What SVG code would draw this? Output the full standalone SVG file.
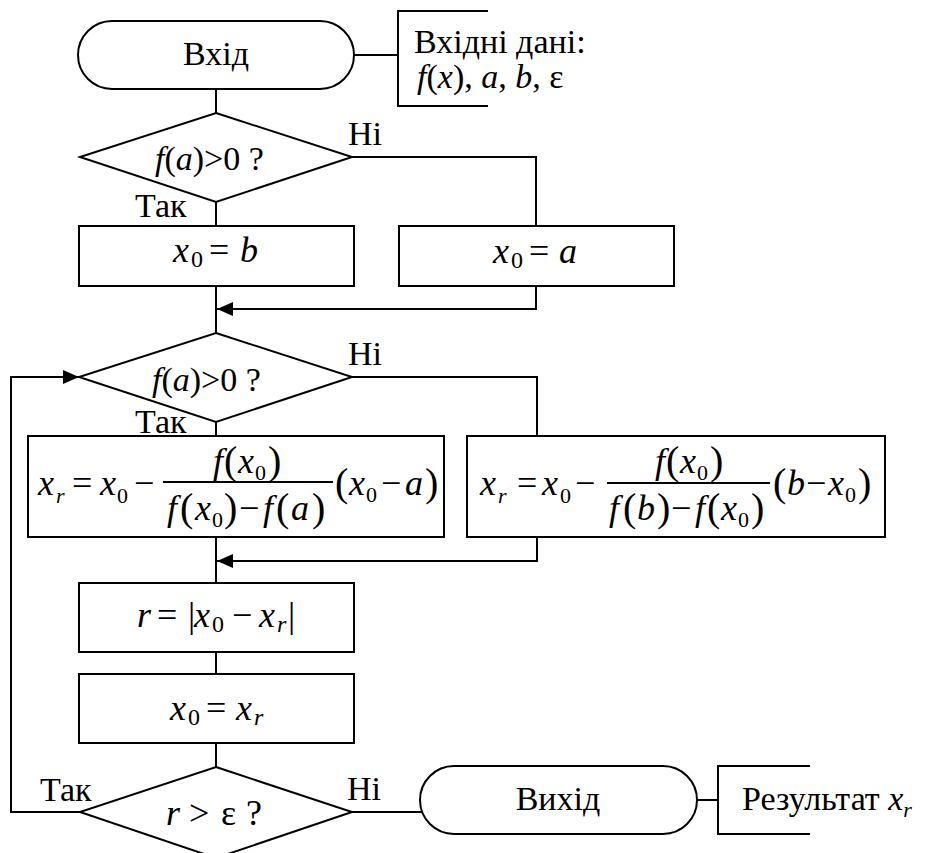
<svg xmlns="http://www.w3.org/2000/svg" width="936" height="853" viewBox="0 0 936 853">
<style>
.s{fill:#fff;stroke:#000;stroke-width:2}
.l{fill:none;stroke:#000;stroke-width:2}
.t{font-family:'Liberation Serif','Times New Roman',serif;font-size:34px;fill:#000}
.f{font-family:'Liberation Serif','Times New Roman',serif;font-size:36px;fill:#000}
.i{font-style:italic}
.sb{font-size:22px}
.sb2{font-size:24px}
.p{font-size:40px}
</style>
<defs>
<marker id="arr" viewBox="0 0 16 14" refX="16" refY="7" markerWidth="16" markerHeight="14" orient="auto" markerUnits="userSpaceOnUse">
<path d="M0,0 L16,7 L0,14 z" fill="#000"/>
</marker>
</defs>
<rect width="936" height="853" fill="#fff"/>
<g id="connectors">
<path class="l" d="M216,89 V113"/>
<path class="l" d="M216,202 V226"/>
<path class="l" d="M352,157 H536 V226"/>
<path class="l" d="M216,286 V333"/>
<path class="l" d="M536,286 V309 H217" marker-end="url(#arr)"/>
<path class="l" d="M216,422 V436"/>
<path class="l" d="M352,377 H537 V436"/>
<path class="l" d="M216,537 V583"/>
<path class="l" d="M537,537 V561 H217" marker-end="url(#arr)"/>
<path class="l" d="M216,652 V674"/>
<path class="l" d="M216,743 V767"/>
<path class="l" d="M80,812 H11 V377 H79" marker-end="url(#arr)"/>
<path class="l" d="M352,812 H422"/>
<path class="l" d="M354,55 H398"/>
<path class="l" d="M697,800 H718"/>
</g>
<g id="start">
<rect class="s" x="78" y="21" width="276" height="68" rx="34"/>
<text class="t" x="216" y="65" text-anchor="middle">Вхід</text>
</g>
<g id="input-note">
<path class="l" d="M488,11 H398 V106 H488"/>
<text class="t" x="414" y="53">Вхідні дані:</text>
<text class="t" x="417" y="88"><tspan class="i">f</tspan>(<tspan class="i">x</tspan>), <tspan class="i">a</tspan>, <tspan class="i">b</tspan>, ε</text>
</g>
<g id="decision1">
<polygon class="s" points="216,113 352,157 216,202 80,157"/>
<text class="t" x="155" y="170"><tspan class="i">f</tspan>(<tspan class="i">a</tspan>)&gt;0 ?</text>
<text class="t" x="348" y="145">Ні</text>
<text class="t" x="135" y="217">Так</text>
</g>
<g id="x0-b">
<rect class="s" x="79" y="226" width="275" height="60"/>
<text class="f"><tspan class="i" x="173" y="262">x</tspan><tspan class="sb2" x="191" y="267">0</tspan><tspan x="209" y="262">=</tspan><tspan class="i" x="240" y="262">b</tspan></text>
</g>
<g id="x0-a">
<rect class="s" x="399" y="226" width="275" height="60"/>
<text class="f"><tspan class="i" x="493" y="263">x</tspan><tspan class="sb2" x="511" y="268">0</tspan><tspan x="529" y="263">=</tspan><tspan class="i" x="559" y="263">a</tspan></text>
</g>
<g id="decision2">
<polygon class="s" points="216,333 352,377 216,422 79,377"/>
<text class="t" x="152" y="391"><tspan class="i">f</tspan>(<tspan class="i">a</tspan>)&gt;0 ?</text>
<text class="t" x="348" y="365">Ні</text>
<text class="t" x="135" y="433">Так</text>
</g>
<g id="formula-left">
<rect class="s" x="28" y="436" width="416" height="101"/>
<text class="f"><tspan class="i" x="38" y="495">x</tspan><tspan class="i sb" x="56" y="503">r</tspan><tspan x="72" y="495">=</tspan><tspan class="i" x="100" y="495">x</tspan><tspan class="sb" x="117" y="503">0</tspan><tspan x="134" y="495">−</tspan></text>
<line class="l" x1="163" y1="482" x2="333" y2="482"/>
<text class="f"><tspan class="i" x="213" y="473">f</tspan><tspan class="p" x="224" y="474">(</tspan><tspan class="i" x="238" y="473">x</tspan><tspan class="sb" x="255" y="480">0</tspan><tspan class="p" x="268" y="474">)</tspan></text>
<text class="f"><tspan class="i" x="167" y="520">f</tspan><tspan class="p" x="180" y="521">(</tspan><tspan class="i" x="195" y="520">x</tspan><tspan class="sb" x="212" y="527">0</tspan><tspan class="p" x="224" y="521">)</tspan><tspan x="239" y="520">−</tspan><tspan class="i" x="263" y="520">f</tspan><tspan class="p" x="276" y="521">(</tspan><tspan class="i" x="291" y="520">a</tspan><tspan class="p" x="312" y="521">)</tspan></text>
<text class="f"><tspan class="p" x="335" y="496">(</tspan><tspan class="i" x="349" y="495">x</tspan><tspan class="sb" x="366" y="502">0</tspan><tspan x="381" y="495">−</tspan><tspan class="i" x="405" y="495">a</tspan><tspan class="p" x="425" y="496">)</tspan></text>
</g>
<g id="formula-right">
<rect class="s" x="467" y="436" width="418" height="101"/>
<text class="f"><tspan class="i" x="480" y="495">x</tspan><tspan class="i sb" x="498" y="503">r</tspan><tspan x="517" y="495">=</tspan><tspan class="i" x="542" y="495">x</tspan><tspan class="sb" x="560" y="503">0</tspan><tspan x="575" y="495">−</tspan></text>
<line class="l" x1="607" y1="483" x2="770" y2="483"/>
<text class="f"><tspan class="i" x="655" y="473">f</tspan><tspan class="p" x="666" y="474">(</tspan><tspan class="i" x="680" y="473">x</tspan><tspan class="sb" x="697" y="480">0</tspan><tspan class="p" x="710" y="474">)</tspan></text>
<text class="f"><tspan class="i" x="609" y="520">f</tspan><tspan class="p" x="623" y="521">(</tspan><tspan class="i" x="637" y="520">b</tspan><tspan class="p" x="657" y="521">)</tspan><tspan x="671" y="520">−</tspan><tspan class="i" x="695" y="520">f</tspan><tspan class="p" x="707" y="521">(</tspan><tspan class="i" x="721" y="520">x</tspan><tspan class="sb" x="738" y="527">0</tspan><tspan class="p" x="751" y="521">)</tspan></text>
<text class="f"><tspan class="p" x="773" y="496">(</tspan><tspan class="i" x="787" y="495">b</tspan><tspan x="806" y="495">−</tspan><tspan class="i" x="828" y="495">x</tspan><tspan class="sb" x="845" y="502">0</tspan><tspan class="p" x="858" y="496">)</tspan></text>
</g>
<g id="r-calc">
<rect class="s" x="79" y="583" width="275" height="69"/>
<text class="f"><tspan class="i" x="137" y="627">r</tspan><tspan x="157" y="627">=</tspan><tspan x="188" y="627">|</tspan><tspan class="i" x="194" y="627">x</tspan><tspan class="sb2" x="212" y="632">0</tspan><tspan x="232" y="627">−</tspan><tspan class="i" x="259" y="627">x</tspan><tspan class="i sb2" x="277" y="632">r</tspan><tspan x="288" y="627">|</tspan></text>
</g>
<g id="x0-xr">
<rect class="s" x="79" y="674" width="275" height="69"/>
<text class="f"><tspan class="i" x="170" y="720">x</tspan><tspan class="sb2" x="188" y="725">0</tspan><tspan x="206" y="720">=</tspan><tspan class="i" x="236" y="720">x</tspan><tspan class="i sb2" x="254" y="725">r</tspan></text>
</g>
<g id="decision3">
<polygon class="s" points="216,767 352,812 216,858 80,812"/>
<text class="f"><tspan class="i" x="166" y="825">r</tspan><tspan x="189" y="825">&gt;</tspan><tspan x="221" y="825">ε</tspan><tspan x="246" y="825">?</tspan></text>
<text class="t" x="40" y="801">Так</text>
<text class="t" x="347" y="800">Ні</text>
</g>
<g id="end">
<rect class="s" x="420" y="766" width="277" height="68" rx="34"/>
<text class="t" x="558" y="810" text-anchor="middle">Вихід</text>
</g>
<g id="result-note">
<path class="l" d="M810,766 H718 V834 H810"/>
<text class="t" x="742" y="810">Результат <tspan class="i">x</tspan><tspan class="i sb" dy="7">r</tspan></text>
</g>
</svg>
